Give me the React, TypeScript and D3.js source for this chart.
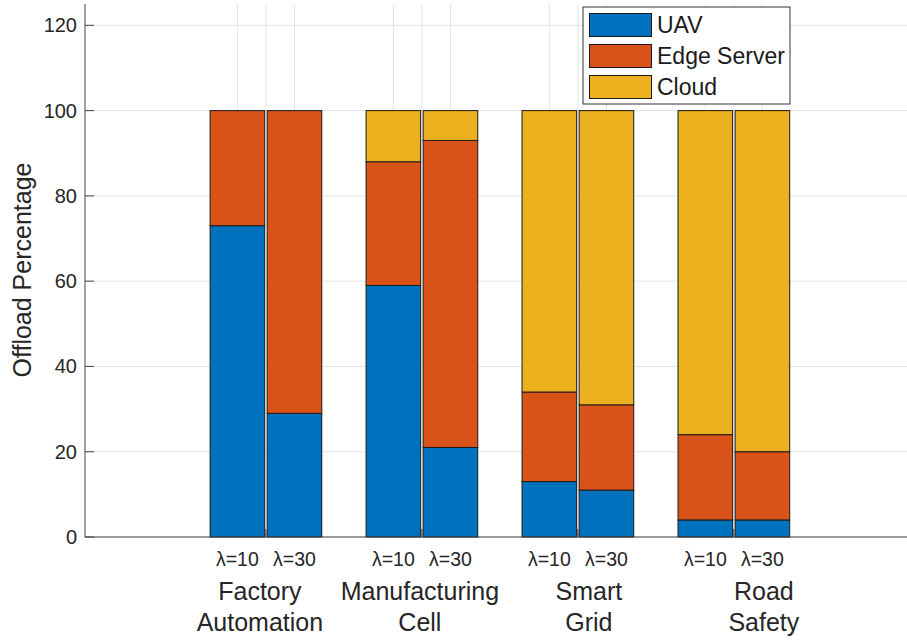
import React from "react";
import * as d3 from "d3";

// Scenario groups and the two arrival rates shown for each
const categories = ["Factory Automation", "Manufacturing Cell", "Smart Grid", "Road Safety"];
const categoryLines = [["Factory", "Automation"], ["Manufacturing", "Cell"], ["Smart", "Grid"], ["Road", "Safety"]];
const rates = ["λ=10", "λ=30"];
const seriesNames = ["UAV", "Edge Server", "Cloud"];

// Offload shares (%) per scenario, ordered [λ=10, λ=30]
const uavValues = [[73, 29], [59, 21], [13, 11], [4, 4]];
const edgeValues = [[27, 71], [29, 72], [21, 20], [20, 16]];
const cloudValues = [[0, 0], [12, 7], [66, 69], [76, 80]];

const yTicks = [0, 20, 40, 60, 80, 100, 120];

const W = 907;
const H = 641;
const COLORS = ["#0072BD", "#D95319", "#EDB120"];
const FONT = "'Liberation Sans', Arial, Helvetica, sans-serif";

// Horizontal nudge (px) applied to each scenario's two-line caption
const captionShift = [-6, -2, 11, 30];

export default function App() {
  const left = 85;
  const bottom = 537;
  const x = d3.scaleLinear().domain([-0.16, 5.11]).range([left, W]);
  const y = d3.scaleLinear().domain([0, 125]).range([bottom, 4]);
  const offset = 0.183; // bar center offset from group center
  const barW = x(0.35) - x(0);

  const rows = categories.map((c, gi) => {
    return rates.map((r, ri) => {
      const vals = [uavValues[gi][ri], edgeValues[gi][ri], cloudValues[gi][ri]];
      const stack: { s: number; y0: number; y1: number }[] = [];
      let acc = 0;
      vals.forEach((v, s) => {
        stack.push({ s, y0: acc, y1: acc + v });
        acc += v;
      });
      return { gi, ri, cx: gi + 1 + (ri === 0 ? -offset : offset), stack };
    });
  });

  const xGrid: number[] = [];
  categories.forEach((_, gi) => {
    xGrid.push(gi + 1 - offset, gi + 1, gi + 1 + offset);
  });

  return (
    <svg
      width={W}
      height={H}
      style={{ position: "absolute", left: 0, top: 0, background: "#fff" }}
      fontFamily={FONT}
    >
      {/* grid */}
      {yTicks.map((t) => (
        <line key={"gy" + t} x1={left} x2={W} y1={y(t)} y2={y(t)} stroke="#e3e3e3" strokeWidth={1} />
      ))}
      {xGrid.map((g, i) => (
        <line key={"gx" + i} x1={x(g)} x2={x(g)} y1={4} y2={bottom} stroke="#e3e3e3" strokeWidth={1} />
      ))}

      {/* ticks */}
      {yTicks.map((t) => (
        <line key={"ty" + t} x1={left} x2={left + 9} y1={y(t)} y2={y(t)} stroke="#444" strokeWidth={1} />
      ))}
      {xGrid.map((g, i) => (
        <line key={"tx" + i} x1={x(g)} x2={x(g)} y1={bottom} y2={bottom - 8} stroke="#444" strokeWidth={1} />
      ))}

      {/* stacked bars */}
      {rows.flat().map((b) =>
        b.stack
          .filter((seg) => seg.y1 > seg.y0)
          .map((seg) => (
            <rect
              key={`b${b.gi}-${b.ri}-${seg.s}`}
              x={x(b.cx) - barW / 2}
              y={y(seg.y1)}
              width={barW}
              height={y(seg.y0) - y(seg.y1)}
              fill={COLORS[seg.s]}
              stroke="#1a1a1a"
              strokeWidth={1}
            />
          ))
      )}

      {/* axes */}
      <line x1={left} x2={left} y1={4} y2={bottom} stroke="#444" strokeWidth={1} />
      <line x1={left} x2={W} y1={bottom} y2={bottom} stroke="#444" strokeWidth={1} />

      {/* y tick labels */}
      {yTicks.map((t) => (
        <text key={"ly" + t} x={77} y={y(t)} dy="0.35em" textAnchor="end" fontSize={20} fill="#262626">
          {t}
        </text>
      ))}

      {/* y axis title */}
      <text
        transform={`translate(31,${270}) rotate(-90)`}
        textAnchor="middle"
        fontSize={25}
        fill="#262626"
      >
        Offload Percentage
      </text>

      {/* rate labels under each bar */}
      {rows.flat().map((b) => (
        <text
          key={`r${b.gi}-${b.ri}`}
          x={x(b.cx)}
          y={566}
          textAnchor="middle"
          fontSize={19.5}
          fill="#262626"
        >
          {rates[b.ri]}
        </text>
      ))}

      {/* scenario captions */}
      {categoryLines.map((lines, gi) =>
        lines.map((ln, li) => (
          <text
            key={`c${gi}-${li}`}
            x={x(gi + 1) + captionShift[gi]}
            y={600 + li * 31}
            textAnchor="middle"
            fontSize={25}
            fill="#262626"
          >
            {ln}
          </text>
        ))
      )}

      {/* legend */}
      <g>
        <rect x={583} y={7} width={207} height={97} fill="#fff" stroke="#333" strokeWidth={1} />
        {seriesNames.map((n, i) => (
          <g key={"lg" + n}>
            <rect x={589.5} y={13.5 + i * 31} width={62} height={23} fill={COLORS[i]} stroke="#1a1a1a" strokeWidth={1} />
            <text x={657} y={25 + i * 31} dy="0.35em" fontSize={23} fill="#1a1a1a">
              {n}
            </text>
          </g>
        ))}
      </g>
    </svg>
  );
}
